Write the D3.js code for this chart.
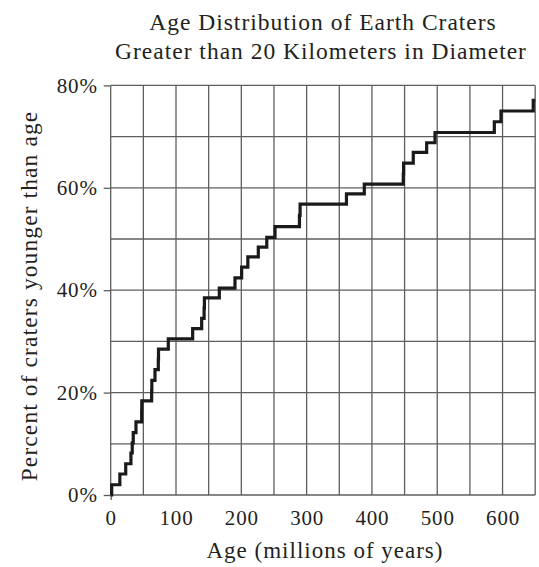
<!DOCTYPE html>
<html>
<head>
<meta charset="utf-8">
<script src="https://cdn.jsdelivr.net/npm/d3@7"></script>
<style>
  body { margin: 0; background: #fff; }
  svg text { font-family: "Liberation Serif", "DejaVu Serif", serif; fill: #231f20; }
</style>
</head>
<body>
<svg id="chart" width="539" height="567"></svg>
<script>
// Step data: age (millions of years) at which cumulative percent steps up, and the new percent
const ages =     [0, 1.5, 14, 23, 31, 33, 34.5, 38.7, 47.4, 47.6, 62.7, 63, 67.8, 72.9, 73.2, 88.2, 125.5, 139.3, 143, 143.5, 166.3, 190.3, 200.5, 210, 226, 239, 251.6, 289, 290, 361, 388.3, 448, 448.5, 463.3, 483.8, 496.6, 587.4, 597.6, 647];
const percents = [0, 2.0, 4.1, 6.1, 8.2, 10.2, 12.2, 14.3, 16.3, 18.4, 20.4, 22.4, 24.5, 26.5, 28.5, 30.5, 32.5, 34.5, 36.5, 38.5, 40.4, 42.4, 44.5, 46.5, 48.4, 50.3, 52.4, 54.6, 56.8, 58.8, 60.7, 62.7, 64.8, 66.9, 68.8, 70.8, 72.9, 75.0, 77.1];
const xTicks = [0, 100, 200, 300, 400, 500, 600];
const yTicks = [0, 20, 40, 60, 80];
const titleLines = ["Age Distribution of Earth Craters", "Greater than 20 Kilometers in Diameter"];
const xTitle = "Age (millions of years)";
const yTitle = "Percent of craters younger than age";

const svg = d3.select("#chart");
const mLeft = 110.7, mRight = 535.2, mTop = 85.4, mBottom = 495;
const x = d3.scaleLinear().domain([0, 650]).range([mLeft, mRight]);
const y = d3.scaleLinear().domain([0, 80]).range([mBottom, mTop]);

const gridColor = "#5e5e5e";
// grid lines
const g = svg.append("g");
g.selectAll("line.v").data(d3.range(0, 651, 50)).enter().append("line")
  .attr("x1", d => x(d)).attr("x2", d => x(d))
  .attr("y1", y(0)).attr("y2", y(80))
  .attr("stroke", gridColor).attr("stroke-width", 1.3);
g.selectAll("line.h").data(d3.range(0, 81, 10)).enter().append("line")
  .attr("x1", x(0)).attr("x2", x(650))
  .attr("y1", d => y(d)).attr("y2", d => y(d))
  .attr("stroke", gridColor).attr("stroke-width", 1.3);

// axes
const xAxis = d3.axisBottom(x).tickValues(xTicks).tickSize(5).tickPadding(4);
const yAxis = d3.axisLeft(y).tickValues(yTicks).tickSize(7).tickPadding(6).tickFormat(d => d + "%");
const gx = svg.append("g").attr("transform", `translate(0,${mBottom})`).call(xAxis);
const gy = svg.append("g").attr("transform", `translate(${mLeft},0)`).call(yAxis);
[gx, gy].forEach(a => {
  a.select(".domain").remove();
  a.selectAll(".tick line").attr("stroke", gridColor).attr("stroke-width", 1.3);
  a.selectAll(".tick text").style("font-size", "21px").style("letter-spacing", "0.8px").attr("fill", "#231f20");
});
gx.selectAll(".tick").filter(d => d !== 0).select("line").remove();
gx.selectAll(".tick text").attr("y", 30).attr("dy", 0);
gy.selectAll(".tick text").attr("dy", "0.32em");

// step line
const line = d3.line().x(d => x(d[0])).y(d => y(d[1])).curve(d3.curveStepAfter);
const pts = ages.map((a, i) => [a, percents[i]]);
pts.push([650, percents[percents.length - 1]]);
svg.append("path").datum(pts)
  .attr("d", line)
  .attr("fill", "none").attr("stroke", "#1a1a1a").attr("stroke-width", 3.2)
  .attr("stroke-linejoin", "miter");

// titles
svg.append("text").attr("x", 323).attr("y", 29.5).attr("text-anchor", "middle")
  .style("font-size", "23.5px").style("letter-spacing", "1px").text(titleLines[0]);
svg.append("text").attr("x", 321).attr("y", 58.5).attr("text-anchor", "middle")
  .style("font-size", "23.5px").style("letter-spacing", "1px").text(titleLines[1]);
svg.append("text").attr("x", 325).attr("y", 558).attr("text-anchor", "middle")
  .style("font-size", "23px").style("letter-spacing", "1px").text(xTitle);
svg.append("text").attr("transform", "translate(37,296) rotate(-90)").attr("text-anchor", "middle")
  .style("font-size", "23.5px").style("letter-spacing", "1.1px").text(yTitle);
</script>
</body>
</html>
